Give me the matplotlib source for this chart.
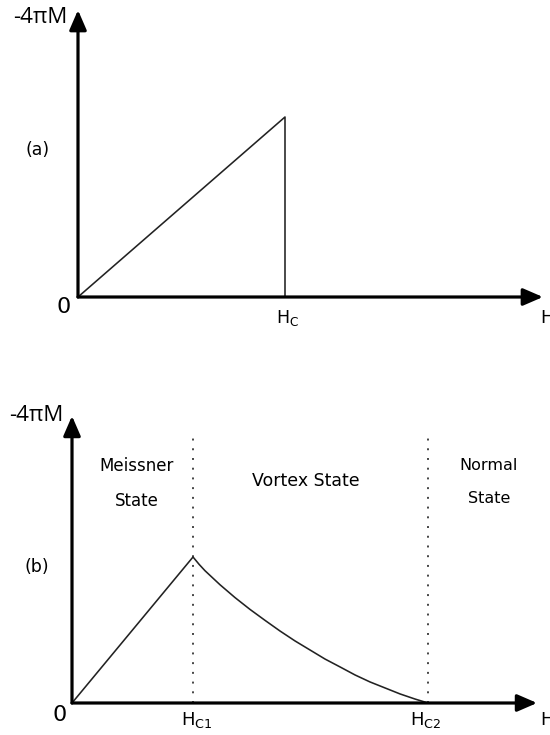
import matplotlib
matplotlib.use("Agg")
import matplotlib.pyplot as plt

# Panel (a): type-I superconductor, -4piM grows linearly up to Hc then drops
h_a = [0.0, 1.0, 1.0]
m_a = [0.0, 1.0, 0.0]
hc_a = 1.0

# Panel (b): type-II superconductor, Meissner state up to Hc1, vortex state to Hc2
hc1 = 1.0
hc2 = 2.94
h_b = [0.0, 1.0, 1.05, 1.099, 1.223, 1.347, 1.471, 1.595, 1.719, 1.843, 1.967,
       2.091, 2.215, 2.339, 2.463, 2.587, 2.711, 2.835, 2.942]
m_b = [0.0, 1.0, 0.950, 0.906, 0.810, 0.722, 0.641, 0.566, 0.493, 0.425, 0.363,
       0.301, 0.247, 0.192, 0.144, 0.103, 0.062, 0.027, 0.0]

fig = plt.figure(figsize=(5.5, 7.35), dpi=100)

arrow_kw = dict(arrowstyle="-|>,head_length=0.6,head_width=0.26",
                mutation_scale=20, lw=2.3, color="black",
                shrinkA=0, shrinkB=0)


def draw_axes_arrows(ax, x_tip, y_tip):
    ax.annotate("", xy=(x_tip, 0), xytext=(0, 0), arrowprops=arrow_kw)
    ax.annotate("", xy=(0, y_tip), xytext=(0, 0), arrowprops=arrow_kw)


label_font = ["Open Sans", "DejaVu Sans"]

# ---- panel (a) ----
ax1 = fig.add_axes([0, 0, 1, 1])
ax1.set_xlim(-0.3768, 2.2802)
ax1.set_ylim(-2.4333, 1.65)
ax1.axis("off")
ax1.plot(h_a, m_a, color="#222222", lw=1.15)
draw_axes_arrows(ax1, 2.246, 1.594)
ax1.text(-0.184, 1.555, "-4πM", fontsize=16, family=label_font,
         ha="center", va="center")
ax1.text(-0.193, 0.817, "(a)", fontsize=12.5, ha="center", va="center")
ax1.text(-0.068, -0.056, "0", fontsize=16, ha="center", va="center")
ax1.text(hc_a + 0.01, -0.117, r"$\mathregular{H_C}$", fontsize=12.5,
         ha="center", va="center")
ax1.text(2.232, -0.117, "H", fontsize=13, ha="left", va="center")

# ---- panel (b) ----
ax2 = fig.add_axes([0, 0, 1, 1])
ax2.set_xlim(-0.595, 3.950)
ax2.set_ylim(-0.2192, 4.815)
ax2.axis("off")
ax2.patch.set_alpha(0)
for hv in (hc1, hc2):
    ax2.plot([hv, hv], [0, 1.836], color="#444444", lw=1.4,
             linestyle=(0, (1, 4.0)))
ax2.plot(h_b, m_b, color="#222222", lw=1.15)
draw_axes_arrows(ax2, 3.843, 1.966)
ax2.text(-0.298, 1.966, "-4πM", fontsize=16, family=label_font,
         ha="center", va="center")
ax2.text(-0.289, 0.932, "(b)", fontsize=12.5, ha="center", va="center")
ax2.text(-0.099, -0.082, "0", fontsize=16, ha="center", va="center")
ax2.text(hc1 + 0.03, -0.116, r"$\mathregular{H_{C1}}$", fontsize=13,
         ha="center", va="center")
ax2.text(hc2 - 0.02, -0.116, r"$\mathregular{H_{C2}}$", fontsize=13,
         ha="center", va="center")
ax2.text(3.868, -0.116, "H", fontsize=13, ha="left", va="center")
ax2.text(0.537, 1.623, "Meissner", fontsize=12, ha="center", va="center")
ax2.text(0.537, 1.384, "State", fontsize=12, ha="center", va="center")
ax2.text(1.934, 1.521, "Vortex State", fontsize=12.5, ha="center", va="center")
ax2.text(3.446, 1.630, "Normal", fontsize=11.5, ha="center", va="center")
ax2.text(3.446, 1.404, "State", fontsize=11.5, ha="center", va="center")

fig.savefig("out.png", dpi=100)
